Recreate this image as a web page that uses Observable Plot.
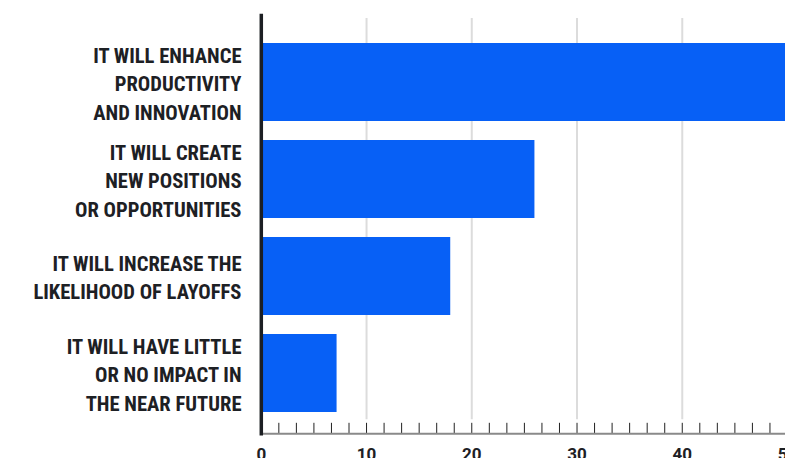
<!DOCTYPE html>
<html>
<head>
<meta charset="utf-8">
<script src="https://cdn.jsdelivr.net/npm/d3@7"></script>
<script src="https://cdn.jsdelivr.net/npm/@observablehq/plot@0.6"></script>
<style>
  html, body { margin: 0; padding: 0; width: 785px; height: 458px; overflow: hidden; background: #fff; }
</style>
</head>
<body>
<div id="chart"></div>
<script>
const categories = [
  "IT WILL ENHANCE\nPRODUCTIVITY\nAND INNOVATION",
  "IT WILL CREATE\nNEW POSITIONS\nOR OPPORTUNITIES",
  "IT WILL INCREASE THE\nLIKELIHOOD OF LAYOFFS",
  "IT WILL HAVE LITTLE\nOR NO IMPACT IN\nTHE NEAR FUTURE"
];
const values = [50, 26, 18, 7.2];
const xTickLabels = [0, 10, 20, 30, 40, 50];
const gridValues = [10, 20, 30, 40];
const minorTicks = d3.range(1, 31).map(k => k * 10 / 6);

const data = categories.map((c, i) => ({label: c, value: values[i]}));

const textColor = "#1d2024";

const chart = Plot.plot({
  width: 800,
  height: 470,
  marginLeft: 260.8,
  marginRight: 13,
  marginTop: 15,
  marginBottom: 36.7,
  style: {maxWidth: "none", background: "#fff"},
  x: {domain: [0, 50], axis: null, label: null},
  y: {domain: categories, axis: null, label: null, paddingInner: 0.2, paddingOuter: 0.2415, align: 0.573},
  marks: [
    Plot.ruleX(gridValues, {stroke: "#dcdcdc", strokeWidth: 2, insetTop: 3, insetBottom: 14}),
    Plot.barX(data, {x: "value", y: "label", fill: "#0760f6"}),
    Plot.ruleX(minorTicks, {stroke: "#222", strokeWidth: 1, insetTop: 407.8}),
    Plot.frame({anchor: "bottom", stroke: "#8a8a8a", strokeWidth: 2}),
    Plot.frame({anchor: "left", stroke: "#1c1f23", strokeWidth: 3.5}),
    Plot.text(data, {
      y: "label", text: "label", frameAnchor: "left", textAnchor: "end", dx: -19.8, dy: -0.5,
      lineHeight: 1.38, fontSize: 20.6, fontWeight: "bold",
      fontFamily: "'Liberation Sans Narrow', 'Roboto Condensed', sans-serif", fill: textColor
    }),
    Plot.axisX(xTickLabels, {
      tickSize: 0, tickPadding: 14.5, fontSize: 17, fontWeight: "bold", label: null,
      fontFamily: "Roboto, sans-serif", fill: textColor, tickFormat: d => String(d)
    })
  ]
});
document.getElementById("chart").appendChild(chart);
</script>
</body>
</html>
